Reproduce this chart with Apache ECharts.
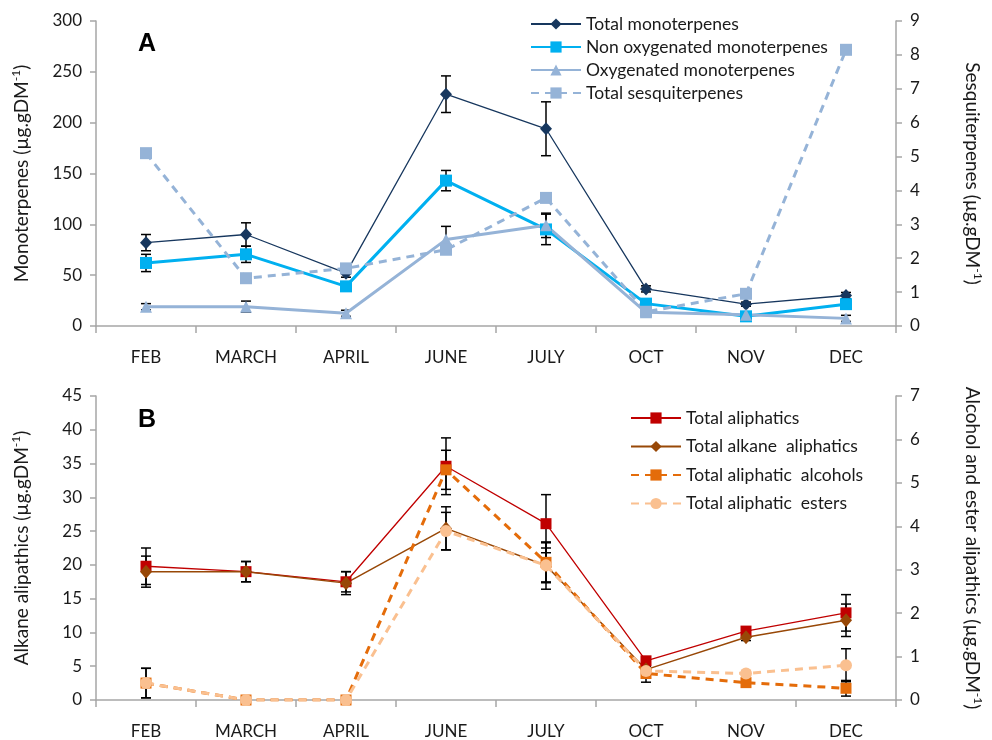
<!DOCTYPE html>
<html>
<head>
<meta charset="utf-8">
<script src="https://cdn.jsdelivr.net/npm/echarts@6/dist/echarts.min.js"></script>
<style>html,body{margin:0;padding:0;background:#fff}#c{width:992px;height:740px}</style>
</head>
<body>
<div id="c"></div>
<script>
// ---- data ----
const months = ['FEB','MARCH','APRIL','JUNE','JULY','OCT','NOV','DEC'];
// Panel A (left axis µg.gDM-1)
const totalMono    = [82, 90, 52, 228, 194, 36.5, 21.5, 30];
const totalMonoErr = [8, 11.5, 4, 18, 26.5, 3, 2, 3];
const nonOxy       = [62, 70.5, 39, 143, 95, 22, 9.5, 21.5];
const nonOxyErr    = [8.5, 8, 3, 10, 15, 2, 1.5, 3];
const oxy          = [19, 19, 12.5, 85, 99, 13.5, 11, 7.5];
const oxyErr       = [3, 5.5, 3, 13, 12, 2, 1.5, 3];
// Panel A (right axis)
const sesq         = [5.1, 1.41, 1.7, 2.25, 3.78, 0.42, 0.95, 8.15];
// Panel B (left axis)
const totalAli     = [19.8, 19, 17.5, 34.6, 26.1, 5.8, 10.2, 12.9];
const totalAliErr  = [2.7, 1.5, 1.5, 4.2, 4.3, 0.6, 0.5, 2.7];
const alkane       = [19, 19, 17.3, 25.4, 19.9, 4.5, 9.3, 11.8];
const alkaneErr    = [2.3, 1.5, 1.7, 3.2, 3.5, 0.5, 0.5, 2.4];
// Panel B (right axis)
const alcohols     = [0.39, 0, 0, 5.3, 3.17, 0.61, 0.4, 0.27];
const alcoholsErr  = [0.34, 0, 0, 0.45, 0.45, 0.2, 0.05, 0.18];
const esters       = [0.39, 0, 0, 3.89, 3.1, 0.67, 0.61, 0.8];
const estersErr    = [0.34, 0, 0, 0.43, 0.4, 0.1, 0.05, 0.38];

const names = {
  a1:'Total monoterpenes', a2:'Non oxygenated monoterpenes', a3:'Oxygenated monoterpenes', a4:'Total sesquiterpenes',
  b1:'Total aliphatics', b2:'Total alkane  aliphatics', b3:'Total aliphatic  alcohols', b4:'Total aliphatic  esters'
};

const FONT = 'Lato, "Open Sans", sans-serif';
const AX = '#A6A6A6';
const TXT = '#1a1a1a';

function errData(vals, errs){
  return vals.map((v,i)=> errs[i] ? [i, v-errs[i], v+errs[i]] : null).filter(d=>d);
}
function errSeries(vals, errs, xi, yi){
  return {
    type:'custom', xAxisIndex:xi, yAxisIndex:yi, z:1, silent:true,
    data: errData(vals, errs),
    encode:{x:0, y:[1,2]},
    renderItem:function(params, api){
      const x = api.value(0);
      const lo = api.coord([x, api.value(1)]);
      const hi = api.coord([x, api.value(2)]);
      const w = 5;
      const st = {stroke:'#000', lineWidth:1.5};
      return {type:'group', children:[
        {type:'line', shape:{x1:lo[0],y1:lo[1],x2:hi[0],y2:hi[1]}, style:st},
        {type:'line', shape:{x1:lo[0]-w,y1:lo[1],x2:lo[0]+w,y2:lo[1]}, style:st},
        {type:'line', shape:{x1:hi[0]-w,y1:hi[1],x2:hi[0]+w,y2:hi[1]}, style:st}
      ]};
    }
  };
}
function lineSeries(name, data, xi, yi, color, width, symbol, size, dashed){
  return {
    name, type:'line', data, xAxisIndex:xi, yAxisIndex:yi, z:3,
    symbol, symbolSize:size, showSymbol:true,
    lineStyle:{color, width, type: dashed ? [8,6] : 'solid'},
    itemStyle:{color},
    emphasis:{disabled:true}, animation:false
  };
}
function xAxis(gi){
  return {
    type:'category', gridIndex:gi, data:months, boundaryGap:true,
    axisLine:{lineStyle:{color:AX, width:1.5}},
    axisTick:{show:true, length:7, lineStyle:{color:AX, width:1.5}},
    axisLabel:{color:TXT, fontSize:17, fontFamily:FONT, margin:23},
    splitLine:{show:false}
  };
}
function supName(txt){ return '{t|'+txt+'}{s|-1}{t|)}'; }
function yAxis(gi, pos, max, interval, name, rot){
  return {
    type:'value', gridIndex:gi, position:pos, min:0, max, interval,
    axisLine:{show:true, lineStyle:{color:AX, width:1.5}},
    axisTick:{show:true, length:6, lineStyle:{color:AX, width:1.5}},
    axisLabel:{color:TXT, fontSize:17, fontFamily:FONT, margin:14},
    splitLine:{show:false},
    name, nameLocation:'middle', nameGap: pos==='left' ? 63 : 65, nameRotate:rot,
    nameTextStyle:{color:TXT, fontFamily:FONT, fontSize:19,
      rich:{t:{fontSize:19, fontFamily:FONT, color:TXT, lineHeight:23},
            s:{fontSize:12, fontFamily:FONT, color:TXT, verticalAlign:'top', lineHeight:23}}}
  };
}

const chart = echarts.init(document.getElementById('c'), null, {renderer:'canvas'});
chart.setOption({
  animation:false,
  backgroundColor:'#fff',
  title:[
    {text:'A', left:133, top:27, textStyle:{fontSize:25, fontWeight:'bold', fontFamily:'"Liberation Sans", Arial, sans-serif', color:'#000'}},
    {text:'B', left:133, top:403, textStyle:{fontSize:25, fontWeight:'bold', fontFamily:'"Liberation Sans", Arial, sans-serif', color:'#000'}}
  ],
  grid:[
    {left:96, right:85, top:21, height:305},
    {left:96, right:85, top:396, height:305}
  ],
  xAxis:[xAxis(0), xAxis(1)],
  yAxis:[
    yAxis(0,'left',300,50, supName('Monoterpenes (µg.gDM'), 90),
    yAxis(0,'right',9,1, supName('Sesquiterpenes (µg.gDM'), -90),
    yAxis(1,'left',45,5, supName('Alkane alipathics (µg.gDM'), 90),
    yAxis(1,'right',7,1, supName('Alcohol and ester alipathics (µg.gDM'), -90)
  ],
  legend:[
    {data:[names.a1,names.a2,names.a3,names.a4], orient:'vertical', left:525, top:10,
     itemWidth:50, itemHeight:14, itemGap:5, selectedMode:false,
     textStyle:{fontSize:17.5, fontFamily:FONT, color:TXT, lineHeight:18}},
    {data:[names.b1,names.b2,names.b3,names.b4], orient:'vertical', left:625, top:404,
     itemWidth:50, itemHeight:14, itemGap:10.5, selectedMode:false,
     textStyle:{fontSize:17.5, fontFamily:FONT, color:TXT, lineHeight:18}}
  ],
  series:[
    errSeries(totalMono, totalMonoErr, 0, 0),
    errSeries(nonOxy, nonOxyErr, 0, 0),
    errSeries(oxy, oxyErr, 0, 0),
    lineSeries(names.a1, totalMono, 0, 0, '#17375E', 1.3, 'diamond', [12,13], false),
    lineSeries(names.a2, nonOxy, 0, 0, '#00B0F0', 3, 'rect', 12, false),
    lineSeries(names.a3, oxy, 0, 0, '#95B3D7', 3, 'triangle', 12, false),
    lineSeries(names.a4, sesq, 0, 1, '#95B3D7', 3, 'rect', 12, true),

    errSeries(totalAli, totalAliErr, 1, 2),
    errSeries(alkane, alkaneErr, 1, 2),
    errSeries(alcohols, alcoholsErr, 1, 3),
    errSeries(esters, estersErr, 1, 3),
    lineSeries(names.b1, totalAli, 1, 2, '#C00000', 1.3, 'rect', 11, false),
    lineSeries(names.b2, alkane, 1, 2, '#984807', 1.5, 'diamond', [12,14], false),
    lineSeries(names.b3, alcohols, 1, 3, '#E46C0A', 3, 'rect', 11, true),
    lineSeries(names.b4, esters, 1, 3, '#FAC090', 3, 'circle', 12, true)
  ]
});
</script>
</body>
</html>
